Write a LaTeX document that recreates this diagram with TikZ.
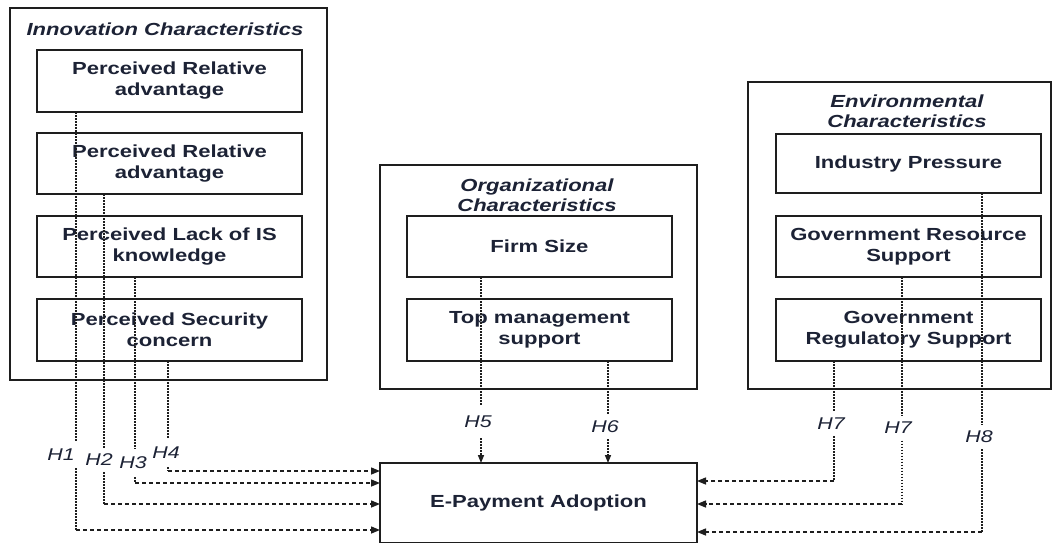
\documentclass[tikz,border=0pt]{standalone}
\usepackage{fontspec}
\setmainfont{Liberation Sans}[FakeStretch=1.26]
\usetikzlibrary{arrows.meta,calc}
\definecolor{txt}{HTML}{1C2235}
\definecolor{ln}{HTML}{1E1E1E}
\begin{document}
\begin{tikzpicture}[x=1pt,y=-1pt,
  obox/.style={draw=ln,line width=1.4pt,inner sep=0pt,outer sep=0pt},
  ibox/.style={draw=ln,line width=1.4pt,inner sep=0pt,outer sep=0pt,minimum width=265pt,align=center,text=txt,font=\fontsize{17.5}{21}\selectfont\bfseries},
  ttl/.style={inner sep=0pt,align=center,text=txt,font=\fontsize{17.5}{20.5}\selectfont\bfseries\itshape},
  hl/.style={inner sep=0pt,text=txt,font=\fontsize{17}{17}\selectfont\itshape},
  vdot/.style={draw=ln,line width=1.5pt,dash pattern=on 1.5pt off 1.5pt},
  hdash/.style={draw=ln,line width=1.4pt,dash pattern=on 4pt off 3pt,-{Triangle[length=9pt,width=7pt]}},
  vdarr/.style={draw=ln,line width=1.5pt,dash pattern=on 1.5pt off 1.5pt,-{Triangle[length=8pt,width=6pt]}}]
\useasboundingbox (0,0) rectangle (1052,542);
\clip (0,0) rectangle (1052,542);
\fill[white] (0,0) rectangle (1052,542);
% outer boxes
\node[obox,minimum width=317pt,minimum height=372pt] (inn) at (168.5,194) {};
\node[obox,minimum width=317pt,minimum height=224pt] (org) at (538.5,277) {};
\node[obox,minimum width=303pt,minimum height=307pt] (env) at (899.5,235.5) {};
% titles
\node[ttl] (tinn) at (165,29) {Innovation Characteristics};
\node[ttl] (torg) at (537,195) {Organizational\\Characteristics};
\node[ttl] (tenv) at (907,111) {Environmental\\Characteristics};
% innovation boxes
\node[ibox,minimum height=62pt] (i1) at (169.5,81) {Perceived Relative\\advantage};
\node[ibox,minimum height=61pt] (i2) at (169.5,163.5) {Perceived Relative\\advantage};
\node[ibox,minimum height=61pt] (i3) at (169.5,246.5) {Perceived Lack of IS\\knowledge};
\node[ibox,minimum height=62pt] (i4) at (169.5,330) {Perceived Security\\concern};
% organizational boxes
\node[ibox,minimum height=61pt] (o1) at (539.5,246.5) {Firm Size};
\node[ibox,minimum height=62pt] (o2) at (539.5,330) {Top management\\support};
% environmental boxes
\node[ibox,minimum height=59pt] (e1) at (908.5,163.5) {Industry Pressure};
\node[ibox,minimum height=61pt] (e2) at (908.5,246.5) {Government Resource\\Support};
\node[ibox,minimum height=62pt] (e3) at (908.5,330) {Government\\Regulatory Support};
% target
\node[ibox,minimum width=317pt,minimum height=80pt] (ep) at (538.5,503) {E-Payment Adoption};
% corner coordinates
\coordinate (c1) at (76,530);
\coordinate (c2) at (104,504);
\coordinate (c3) at (135,483);
\coordinate (c4) at (168,471);
\coordinate (c5) at (481,463);
\coordinate (c6) at (608,463);
\coordinate (c7) at (834,481);
\coordinate (c8) at (902,504);
\coordinate (c9) at (982,532);
% labels
\node[hl,minimum height=26pt] (l1) at (61,455) {H1};
\node[hl,minimum height=24pt] (l2) at (99,460) {H2};
\node[hl,minimum height=28pt] (l3) at (133,463) {H3};
\node[hl,minimum height=28pt] (l4) at (166,453) {H4};
\node[hl,minimum height=32pt] (l5) at (478,422) {H5};
\node[hl,minimum height=24pt] (l6) at (605,427) {H6};
\node[hl,minimum height=24pt] (l7) at (831,424) {H7};
\node[hl,minimum height=25pt] (l8) at (898,428) {H7};
\node[hl,minimum height=24pt] (l9) at (979,437) {H8};
% left connectors
\draw[vdot] (i1.south -| c1) -- (l1.north -| c1);
\draw[vdot] (l1.south -| c1) -- (c1);
\draw[hdash] (c1) -- (c1 -| ep.west);
\draw[vdot] (i2.south -| c2) -- (l2.north -| c2);
\draw[vdot] (l2.south -| c2) -- (c2);
\draw[hdash] (c2) -- (c2 -| ep.west);
\draw[vdot] (i3.south -| c3) -- (l3.north -| c3);
\draw[vdot] (l3.south -| c3) -- (c3);
\draw[hdash] (c3) -- (c3 -| ep.west);
\draw[vdot] (i4.south -| c4) -- (l4.north -| c4);
\draw[vdot] (l4.south -| c4) -- (c4);
\draw[hdash] (c4) -- (c4 -| ep.west);
% middle connectors
\draw[vdot] (o1.south -| c5) -- (l5.north -| c5);
\draw[vdarr] (l5.south -| c5) -- (c5);
\draw[vdot] (o2.south -| c6) -- (l6.north -| c6);
\draw[vdarr] (l6.south -| c6) -- (c6);
% right connectors
\draw[vdot] (e3.south -| c7) -- (l7.north -| c7);
\draw[vdot] (l7.south -| c7) -- (c7);
\draw[hdash] (c7) -- (c7 -| ep.east);
\draw[vdot] (e2.south -| c8) -- (l8.north -| c8);
\draw[vdot] (l8.south -| c8) -- (c8);
\draw[hdash] (c8) -- (c8 -| ep.east);
\draw[vdot] (e1.south -| c9) -- (l9.north -| c9);
\draw[vdot] (l9.south -| c9) -- (c9);
\draw[hdash] (c9) -- (c9 -| ep.east);
\end{tikzpicture}
\end{document}
